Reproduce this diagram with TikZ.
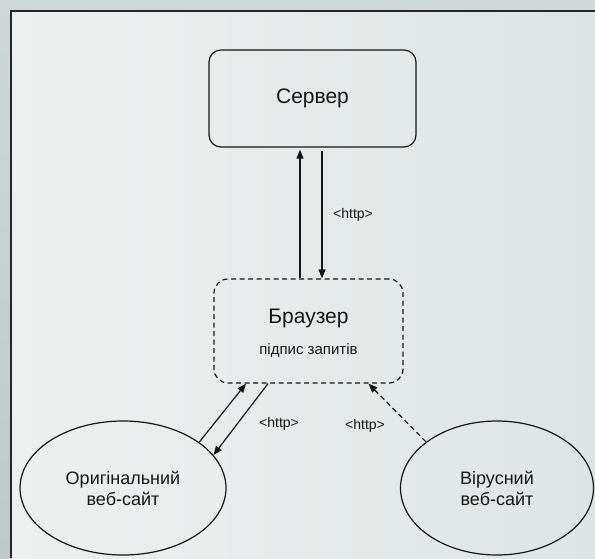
\documentclass[tikz,border=0pt]{standalone}
\usepackage{fontspec}
\setmainfont{Liberation Sans}
\usetikzlibrary{shapes.geometric,arrows.meta,calc}

\definecolor{framelight}{HTML}{CFD7D8}
\definecolor{framedark}{HTML}{BFC9CA}
\definecolor{paneltop}{HTML}{EDF0EF}
\definecolor{panelbot}{HTML}{DEE4E4}
\definecolor{ink}{HTML}{161616}

\begin{document}
\begin{tikzpicture}[x=1pt,y=-1pt,
  every node/.style={text=ink},
  roundbox/.style={draw=ink, line width=1.2pt, rectangle, rounded corners=12pt, inner sep=0pt},
  sitebox/.style={draw=ink, line width=1.2pt, ellipse, inner sep=0pt, align=center,
    font=\fontsize{18}{21}\selectfont},
  arr/.style={draw=ink, line width=1.2pt, -{Triangle[length=9pt,width=7pt]}},
  dasharr/.style={arr, dash pattern=on 5pt off 3.5pt},
  httplabel/.style={font=\fontsize{14}{16}\selectfont, inner sep=0pt}
]
\useasboundingbox (0,0) rectangle (595,558);

% outer frame and inner panel
\shade[top color=framelight, bottom color=framedark] (0,0) rectangle (595,558);
\shade[left color=paneltop, right color=panelbot] (11,11) rectangle (595,558);
\draw[line width=1.8pt, color=black!85] (11,558) -- (11,11) -- (595,11);

% server
\node[roundbox, minimum width=207pt, minimum height=97pt,
      font=\fontsize{21}{24}\selectfont] (server) at (312.5,98.5) {Сервер};

% browser
\node[roundbox, dash pattern=on 5pt off 3.5pt, rounded corners=14pt,
      minimum width=189pt, minimum height=104pt] (browser) at (308.5,331) {};
\node[font=\fontsize{21}{24}\selectfont, inner sep=0pt] (btitle) at (308.5,318) {Браузер};
\node[font=\fontsize{15}{18}\selectfont, inner sep=0pt] (bsub) at (308.5,351) {підпис запитів};

% web sites
\node[sitebox, minimum width=206pt, minimum height=134pt] (orig) at (123,488)
  {Оригінальний\\веб-сайт};
\node[sitebox, minimum width=193pt, minimum height=134pt] (virus) at (497,488)
  {Вірусний\\веб-сайт};

% server <-> browser
\draw[arr] ([xshift=-8.5pt]browser.north) -- ([xshift=-12.5pt,yshift=-2pt]server.south);
\draw[arr] ([xshift=9.5pt,yshift=-3pt]server.south) -- ([xshift=13.5pt]browser.north);
\node[httplabel] (h1) at (353,215) {<http>};

% original site <-> browser
\draw[arr] (orig.31) -- ([xshift=-62.5pt]browser.south);
\draw[arr] ([xshift=-40.5pt]browser.south) -- (orig.20);
\node[httplabel] (h2) at (279,424) {<http>};

% virus site -> browser
\draw[dasharr] (virus.147) -- ([xshift=60pt]browser.south);
\node[httplabel] (h3) at (365,426) {<http>};
\end{tikzpicture}
\end{document}
